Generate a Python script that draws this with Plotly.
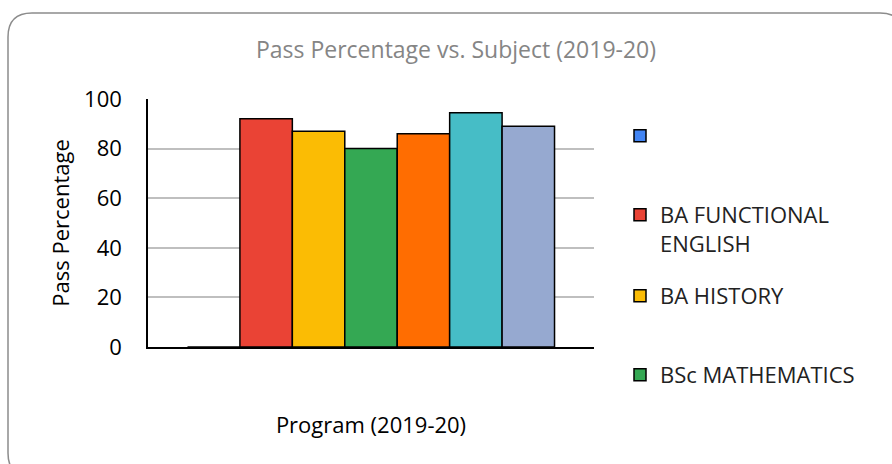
import plotly.graph_objects as go

# ---- data ----
category = [""]
series_names = ["", "BA FUNCTIONAL<br>ENGLISH", "BA HISTORY", "BSc MATHEMATICS",
                "Subject 5", "Subject 6", "Subject 7"]
pass_pct = [0, 92, 87, 80, 86, 94.5, 89]
colors = ["#4285F4", "#EA4335", "#FBBC04", "#34A853", "#FF6D01", "#46BDC6", "#96A9D0"]
show_in_legend = [True, True, True, True, False, False, False]
y_ticks = [0, 20, 40, 60, 80, 100]

W, H = 892, 464
L, R, T, B = 148, 298, 99, 117
PW, PH = W - L - R, H - T - B


def px2paper(x, y):
    return (x - L) / PW, (H - B - y) / PH


FONT = "Open Sans"
FS = 22

fig = go.Figure()
legend_ids = ["legend", "legend2", "legend3", "legend4"]
li = 0
for name, v, c, sl in zip(series_names, pass_pct, colors, show_in_legend):
    kw = {}
    if sl:
        kw["legend"] = legend_ids[li]
        li += 1
    fig.add_trace(go.Bar(
        x=category, y=[v], name=name,
        marker=dict(color=c, line=dict(color="#000000", width=1.5)),
        showlegend=sl, **kw))

# legends positioned individually
legend_centers = [133, 212, 293, 372]
legend_cfg = {}
for i, (lid, cy) in enumerate(zip(legend_ids, legend_centers)):
    lx, ly = px2paper(620, cy - 18)
    legend_cfg[lid] = dict(
        x=lx, y=ly, xanchor="left", yanchor="top",
        xref="paper", yref="paper",
        font=dict(family=FONT, size=FS, color="#222222"),
        bgcolor="rgba(0,0,0,0)", valign="top",
        itemclick=False, itemdoubleclick=False,
    )

# rounded outer border
x0, y0, x1, y1, r = 8, 13, 904, 477, 24
def P(x, y):
    a, b = px2paper(x, y)
    return f"{a:.5f},{b:.5f}"
path = (f"M {P(x0 + r, y0)} L {P(x1 - r, y0)} Q {P(x1, y0)} {P(x1, y0 + r)} "
        f"L {P(x1, y1 - r)} Q {P(x1, y1)} {P(x1 - r, y1)} "
        f"L {P(x0 + r, y1)} Q {P(x0, y1)} {P(x0, y1 - r)} "
        f"L {P(x0, y0 + r)} Q {P(x0, y0)} {P(x0 + r, y0)} Z")

fig.update_layout(
    width=W, height=H,
    margin=dict(l=L, r=R, t=T, b=B, pad=0),
    paper_bgcolor="white", plot_bgcolor="white",
    barmode="group", bargap=0.177, bargroupgap=0,
    title=dict(text="Pass Percentage vs. Subject (2019-20)",
               x=(456) / W, xanchor="center", y=1 - 50 / H, yanchor="middle",
               font=dict(family=FONT, size=23, color="#858585")),
    font=dict(family=FONT, color="#000000"),
    xaxis=dict(showline=True, linecolor="#000000", linewidth=1.5,
               showticklabels=False, ticks="",
               title=dict(text="Program (2019-20)", standoff=70,
                          font=dict(family=FONT, size=FS, color="#000000"))),
    yaxis=dict(range=[0, 100], tickvals=y_ticks, showline=True,
               linecolor="#000000", linewidth=1.5,
               gridcolor="#BFBFBF", gridwidth=1.5, zeroline=False,
               ticks="", ticklabelstandoff=20,
               tickfont=dict(family=FONT, size=FS, color="#000000"),
               title=dict(text="Pass Percentage", standoff=8,
                          font=dict(family=FONT, size=FS, color="#000000"))),
    shapes=[dict(type="path", path=path, xref="paper", yref="paper",
                 line=dict(color="#8C8C8C", width=1.5), layer="above")],
    **legend_cfg,
)

fig.write_html("out.html", config={"displayModeBar": False},
               post_script="document.body.style.margin='0';document.body.style.padding='0';")
